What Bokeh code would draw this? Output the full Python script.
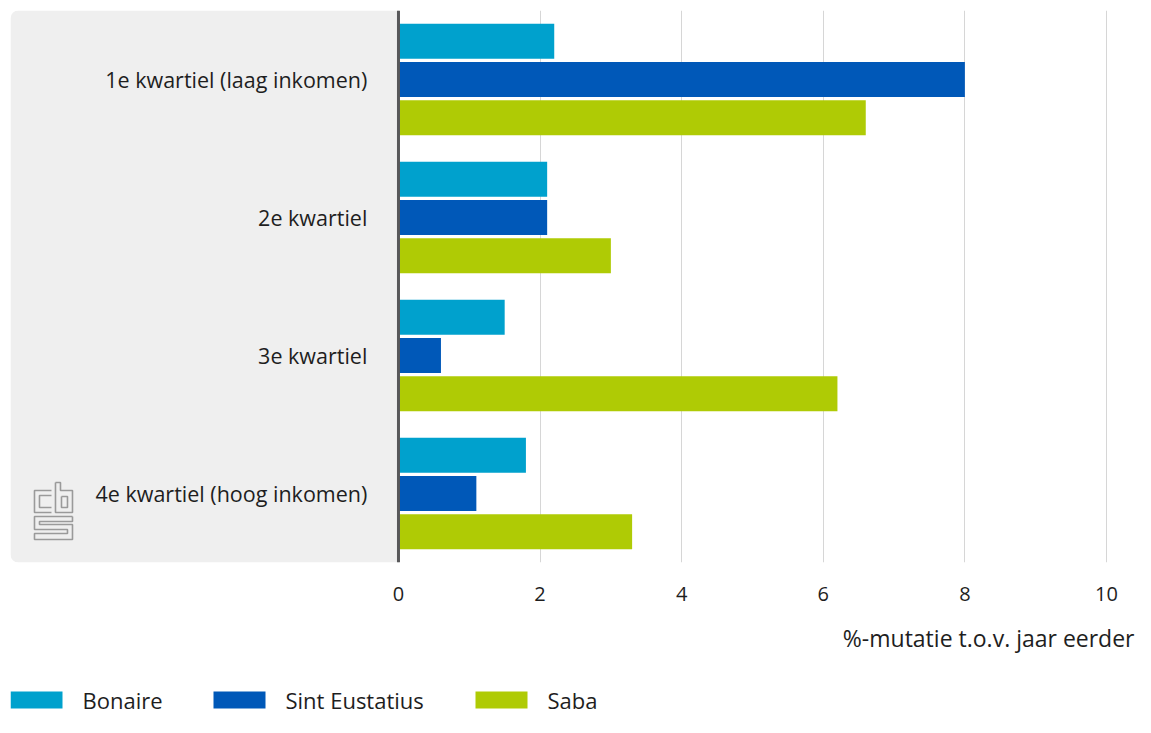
from bokeh.plotting import figure
from bokeh.models import (ColumnDataSource, FactorRange, Range1d, FixedTicker, BoxAnnotation,
                          Span, Label)
from bokeh.layouts import column
from bokeh.transform import dodge
from bokeh.core.properties import value
from bokeh.embed import file_html
from bokeh.resources import INLINE

# ---- data ----
categories = ["1e kwartiel (laag inkomen)", "2e kwartiel", "3e kwartiel", "4e kwartiel (hoog inkomen)"]
bonaire = [2.2, 2.1, 1.5, 1.8]
sint_eustatius = [8.0, 2.1, 0.6, 1.1]
saba = [6.6, 3.0, 6.2, 3.3]
series_names = ["Bonaire", "Sint Eustatius", "Saba"]
x_ticks = [0, 2, 4, 6, 8, 10]
x_title = "%-mutatie t.o.v. jaar eerder"

colors = ["#00a1cd", "#0058b8", "#afcb05"]
FONT = "Open Sans"
TXT = "#1e1e1e"
W = 1135
H1 = 620
H2 = 97

src = ColumnDataSource(dict(cat=categories, bon=bonaire, eus=sint_eustatius, sab=saba))

# ---------------- main chart ----------------
p = figure(width=W, height=H1, output_backend="svg", toolbar_location=None,
           x_range=Range1d(-5.48, 10.41),
           y_range=FactorRange(factors=list(reversed(categories)), range_padding=0),
           min_border_left=10, min_border_right=0, min_border_top=10, min_border_bottom=H1 - 562)
p.outline_line_color = None
p.background_fill_color = "white"
p.border_fill_color = "white"
p.yaxis.visible = False
p.ygrid.visible = False

# gray panel behind the category labels
panel = BoxAnnotation(right=0, fill_color="#efefef", fill_alpha=1.0, line_color=None,
                      border_radius=(8, 0, 0, 8), level="underlay")
p.add_layout(panel)

p.xgrid.ticker = FixedTicker(ticks=x_ticks)
p.xgrid.grid_line_color = "#d6d6d6"
p.xgrid.grid_line_width = 1

ax = p.xaxis[0]
ax.ticker = FixedTicker(ticks=x_ticks)
ax.axis_line_color = None
ax.major_tick_line_color = None
ax.minor_tick_line_color = None
ax.major_tick_out = 0
ax.major_tick_in = 0
ax.major_label_text_font = FONT
ax.major_label_text_font_size = "20px"
ax.major_label_text_color = TXT
ax.major_label_standoff = 24

offsets = [0.2775, 0.0, -0.2775]
fields = ["bon", "eus", "sab"]
for f, off, c in zip(fields, offsets, colors):
    p.hbar(y=dodge("cat", off, range=p.y_range), left=0, right=f, height=0.254,
           source=src, fill_color=c, line_color=None)

# axis line at zero
p.add_layout(Span(location=0, dimension="height", line_color="#58585a", line_width=3))

# category labels inside the gray panel
p.text(x=[-0.44] * len(categories), y=categories, text=categories,
       text_font=value(FONT), text_font_size="21.5px", text_color=TXT,
       text_align="right", text_baseline="middle")

# small CBS logo (decoration) drawn in screen-pixel offsets converted to data space
PX = 70.8   # pixels per x unit
PY = 138.0  # pixels per category
def lx(px):
    return (px - 398) / PX
def ly(py):
    return (562 - py) / PY
logo_paths = [
    [(51, 490), (34, 490), (34, 512), (51, 512)],
    [(51, 495), (39, 495), (39, 507), (51, 507)],
    [(55, 482), (55, 512), (72, 512), (72, 490), (60, 490), (60, 482), (55, 482)],
    [(61, 496), (67, 496), (67, 507), (61, 507), (61, 496)],
    [(72, 516), (34, 516), (34, 529), (67, 529), (67, 533), (34, 533), (34, 539), (72, 539),
     (72, 524), (39, 524), (39, 521), (72, 521), (72, 516)],
]
p.multi_line(xs=[[lx(a) for a, b in path] for path in logo_paths],
             ys=[[ly(b) for a, b in path] for path in logo_paths],
             line_color="#9a9a9a", line_width=1.6)

# ---------------- bottom strip: axis title and legend ----------------
# frame of this strip is aligned with the main frame (page x 10 .. 1135), y counts up from the page bottom
p2 = figure(width=W, height=H2, output_backend="svg", toolbar_location=None,
            x_range=Range1d(10, W), y_range=Range1d(0, H2),
            min_border_left=10, min_border_right=0, min_border_top=0, min_border_bottom=0)
p2.outline_line_color = None
p2.axis.visible = False
p2.grid.visible = False
p2.border_fill_color = "white"
p2.background_fill_color = "white"

p2.add_layout(Label(x=W - 1, y=H2 - 17, text=x_title,
                    text_font=FONT, text_font_size="23px", text_color=TXT,
                    text_align="right", text_baseline="middle"))

leg_x = [10, 213, 475]
sw_w, sw_h, sw_bottom, gap = 52, 17, 9, 20
p2.quad(left=leg_x, right=[x + sw_w for x in leg_x],
        bottom=[sw_bottom] * 3, top=[sw_bottom + sw_h] * 3,
        fill_color=colors, line_color=None)
p2.text(x=[x + sw_w + gap for x in leg_x], y=[sw_bottom + sw_h / 2] * 3, text=series_names,
        text_font=value(FONT), text_font_size="22px", text_color=TXT,
        text_align="left", text_baseline="middle")

layout = column(p, p2, spacing=0)
open("out.html", "w").write(file_html(layout, INLINE))
